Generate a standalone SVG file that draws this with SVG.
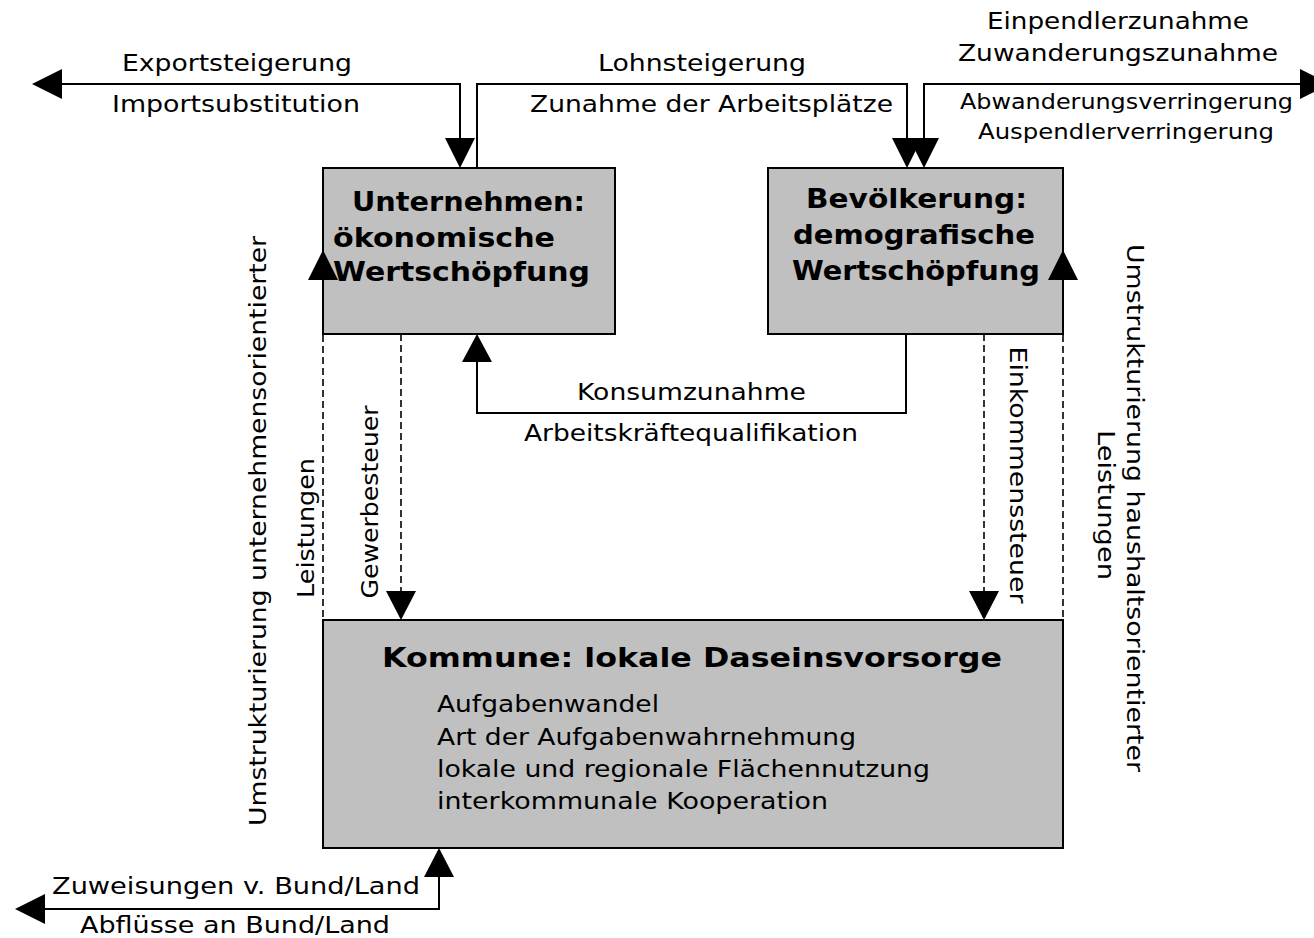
<svg xmlns="http://www.w3.org/2000/svg" width="1314" height="938" viewBox="0 0 1314 938">
<style>
.box{fill:#c0c0c0;stroke:#000;stroke-width:2}
.ln{fill:none;stroke:#000;stroke-width:2}
.ds{fill:none;stroke:#000;stroke-width:1.6;stroke-dasharray:7 4}
.ah{fill:#000;stroke:none}
text{font-family:"DejaVu Sans","Verdana",sans-serif;fill:#000}
.t{font-size:23px}
.s{font-size:21px}
.b{font-size:27px;font-weight:bold}
</style>
<rect width="1314" height="938" fill="#fff"/>
<g id="n-unternehmen">
<rect class="box" x="323" y="168" width="292" height="166"/>
<text class="b" x="352" y="211" textLength="233" lengthAdjust="spacingAndGlyphs">Unternehmen:</text>
<text class="b" x="333" y="247" textLength="222" lengthAdjust="spacingAndGlyphs">ökonomische</text>
<text class="b" x="333" y="281" textLength="257" lengthAdjust="spacingAndGlyphs">Wertschöpfung</text>
</g>
<g id="n-bevoelkerung">
<rect class="box" x="768" y="168" width="295" height="166"/>
<text class="b" x="806" y="208" textLength="221" lengthAdjust="spacingAndGlyphs">Bevölkerung:</text>
<text class="b" x="793" y="244" textLength="242" lengthAdjust="spacingAndGlyphs">demografische</text>
<text class="b" x="792" y="280" textLength="248" lengthAdjust="spacingAndGlyphs">Wertschöpfung</text>
</g>
<g id="n-kommune">
<rect class="box" x="323" y="620" width="740" height="228"/>
<text class="b" x="382" y="667" textLength="620" lengthAdjust="spacingAndGlyphs">Kommune: lokale Daseinsvorsorge</text>
<text class="t" x="437" y="712" textLength="222" lengthAdjust="spacingAndGlyphs">Aufgabenwandel</text>
<text class="t" x="437" y="745" textLength="419" lengthAdjust="spacingAndGlyphs">Art der Aufgabenwahrnehmung</text>
<text class="t" x="437" y="777" textLength="493" lengthAdjust="spacingAndGlyphs">lokale und regionale Flächennutzung</text>
<text class="t" x="437" y="809" textLength="391" lengthAdjust="spacingAndGlyphs">interkommunale Kooperation</text>
</g>
<g id="connectors">
<polyline class="ln" points="62,84 460,84 460,140"/>
<polygon class="ah" points="32,84 62,69 62,99"/>
<polygon class="ah" points="460,168 445,138 475,138"/>
<polyline class="ln" points="477,168 477,84 907,84 907,140"/>
<polygon class="ah" points="907,168 892,138 922,138"/>
<polyline class="ln" points="924,140 924,84 1300,84"/>
<polygon class="ah" points="924,168 909,138 939,138"/>
<polygon class="ah" points="1330,84 1300,69 1300,99"/>
<polyline class="ln" points="906,334 906,413 477,413 477,362"/>
<polygon class="ah" points="477,334 462,362 492,362"/>
<line class="ds" x1="401" y1="334" x2="401" y2="592"/>
<polygon class="ah" points="401,620 386,591 416,591"/>
<line class="ds" x1="984" y1="334" x2="984" y2="592"/>
<polygon class="ah" points="984,620 969,591 999,591"/>
<line class="ds" x1="323" y1="280" x2="323" y2="735"/>
<polygon class="ah" points="323,250 308,280 338,280"/>
<line class="ds" x1="1063" y1="280" x2="1063" y2="735"/>
<polygon class="ah" points="1063,250 1048,280 1078,280"/>
<polyline class="ln" points="439,877 439,909 45,909"/>
<polygon class="ah" points="439,848 424,877 454,877"/>
<polygon class="ah" points="15,909 45,894 45,924"/>
</g>
<g id="labels">
<text class="t" x="122" y="71" textLength="230" lengthAdjust="spacingAndGlyphs">Exportsteigerung</text>
<text class="t" x="112" y="112" textLength="248" lengthAdjust="spacingAndGlyphs">Importsubstitution</text>
<text class="t" x="598" y="71" textLength="208" lengthAdjust="spacingAndGlyphs">Lohnsteigerung</text>
<text class="t" x="530" y="112" textLength="363" lengthAdjust="spacingAndGlyphs">Zunahme der Arbeitsplätze</text>
<text class="t" x="987" y="29" textLength="262" lengthAdjust="spacingAndGlyphs">Einpendlerzunahme</text>
<text class="t" x="958" y="61" textLength="320" lengthAdjust="spacingAndGlyphs">Zuwanderungszunahme</text>
<text class="s" x="960" y="109" textLength="333" lengthAdjust="spacingAndGlyphs">Abwanderungsverringerung</text>
<text class="s" x="978" y="139" textLength="296" lengthAdjust="spacingAndGlyphs">Auspendlerverringerung</text>
<text class="t" x="577" y="400" textLength="229" lengthAdjust="spacingAndGlyphs">Konsumzunahme</text>
<text class="t" x="524" y="441" textLength="334" lengthAdjust="spacingAndGlyphs">Arbeitskräftequalifikation</text>
<text class="t" x="52" y="894" textLength="368" lengthAdjust="spacingAndGlyphs">Zuweisungen v. Bund/Land</text>
<text class="t" x="80" y="933" textLength="310" lengthAdjust="spacingAndGlyphs">Abflüsse an Bund/Land</text>
<text class="t" transform="translate(266,531) rotate(-90)" text-anchor="middle" textLength="590" lengthAdjust="spacingAndGlyphs">Umstrukturierung unternehmensorientierter</text>
<text class="t" transform="translate(314,528) rotate(-90)" text-anchor="middle" textLength="140" lengthAdjust="spacingAndGlyphs">Leistungen</text>
<text class="t" transform="translate(378,502) rotate(-90)" text-anchor="middle" textLength="193" lengthAdjust="spacingAndGlyphs">Gewerbesteuer</text>
<text class="t" transform="translate(1010,475) rotate(90)" text-anchor="middle" textLength="257" lengthAdjust="spacingAndGlyphs">Einkommenssteuer</text>
<text class="t" transform="translate(1127,508) rotate(90)" text-anchor="middle" textLength="528" lengthAdjust="spacingAndGlyphs">Umstrukturierung haushaltsorientierter</text>
<text class="t" transform="translate(1098,505) rotate(90)" text-anchor="middle" textLength="150" lengthAdjust="spacingAndGlyphs">Leistungen</text>
</g>
</svg>
